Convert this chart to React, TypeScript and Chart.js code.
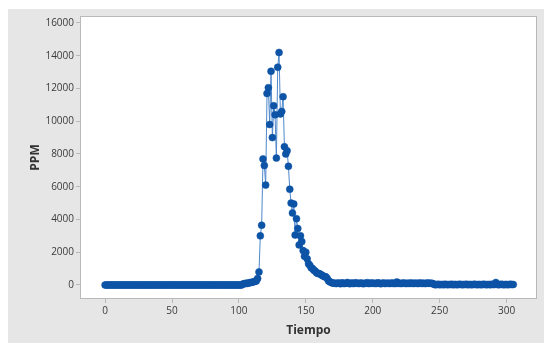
import React, { useEffect, useRef } from "react";
import { Chart, registerables } from "chart.js";

Chart.register(...registerables);

// PPM readings, one per unit of Tiempo (t = 0 .. 305)
const ppmBase1 = [
  0, 0, 0, 0, 0, 0, 0, 0, 0, 0, 0, 0, 0, 0, 0, 0, 0, 0, 0, 0,
  0, 0, 0, 0, 0, 0, 0, 0, 0, 0, 0, 0, 0, 0, 0, 0, 0, 0, 0, 0,
  0, 0, 0, 0, 0, 0, 0, 0, 0, 0, 0, 0, 0, 0, 0, 0, 0, 0, 0, 0,
  0, 0, 0, 0, 0, 0, 0, 0, 0, 0, 0, 0, 0, 0, 0, 0, 0, 0, 0, 0,
  0, 0, 0, 0, 0, 0, 0, 0, 0, 0, 0, 0, 0, 0, 0, 0, 0, 0, 0, 0,
  0, 0, 0,
];
const ppmRise = [60, 80, 100, 90, 120, 140, 150, 170, 200, 220, 250, 400, 800, 3000, 3650];
const ppmPeak = [
  7700, 7300, 6100, 11700, 12050, 9800, 13050, 9000, 10950, 10400,
  7750, 13300, 14200, 10450, 10600, 11500, 8450, 8000, 8200, 7250,
];
const ppmDecay = [
  5850, 5000, 4400, 4950, 3050, 4050, 3450, 2450, 3000, 2650,
  2100, 1750, 2000, 1600, 1300, 1200, 1050, 1000, 900, 850,
  750, 700, 700, 650, 600, 550, 500, 500, 400, 250,
  200, 150, 120,
];
const ppmTail1 = [
  110, 100, 90, 120, 100, 80, 130, 100, 90, 110, 150, 100, 80, 120, 100, 90, 130, 110, 100, 90,
  120, 100, 80, 110, 100, 140, 90, 100, 120, 100, 110, 90, 100, 130, 100, 80, 100, 120, 90, 100,
  110, 100, 90, 120, 100, 100, 90, 180, 100, 110, 90, 100, 120, 100, 90, 110, 100, 100, 120, 90,
  100, 110, 100, 90, 120, 100, 100, 110, 90, 100, 120, 100, 110, 100, 90,
];
const ppmTail2 = [
  30, 20, 30, 40, 20, 30, 30, 20, 40, 30, 20, 30, 30, 40, 20, 30, 30, 20, 30, 40,
  30, 20, 30, 30, 40, 20, 30, 30, 20, 30, 40, 30, 20, 30, 30, 20, 30, 40, 30, 20,
  30, 30, 20, 40, 30, 30, 150, 30, 20, 30, 40, 30, 20, 30, 30, 20, 30, 40, 30, 30,
];
const ppm = [...ppmBase1, ...ppmRise, ...ppmPeak, ...ppmDecay, ...ppmTail1, ...ppmTail2];

const xTicks = [0, 50, 100, 150, 200, 250, 300];
const yTicks = [0, 2000, 4000, 6000, 8000, 10000, 12000, 14000, 16000];

const background = {
  id: "bgPanel",
  beforeDraw(chart: any) {
    const { ctx, chartArea } = chart;
    ctx.save();
    ctx.fillStyle = "#e6e6e6";
    ctx.fillRect(8, 9, chart.width - 8, chart.height - 9);
    ctx.fillStyle = "#ffffff";
    ctx.fillRect(chartArea.left, chartArea.top, chartArea.right - chartArea.left, chartArea.bottom - chartArea.top);
    ctx.strokeStyle = "#b9b9b9";
    ctx.lineWidth = 1;
    ctx.strokeRect(chartArea.left - 0.5, chartArea.top - 0.5, chartArea.right - chartArea.left + 1, chartArea.bottom - chartArea.top + 1);
    ctx.restore();
  },
};

export default function App() {
  const ref = useRef<HTMLCanvasElement>(null);
  useEffect(() => {
    if (!ref.current) return;
    const data = ppm.map((v, i) => ({ x: i, y: v }));
    const tickFont = { family: "'Open Sans', sans-serif", size: 10 };
    const titleFont = { family: "'Open Sans', sans-serif", size: 12, weight: "bold" as const };
    const chart = new Chart(ref.current, {
      type: "line",
      data: {
        datasets: [
          {
            data,
            borderColor: "#4f88cc",
            borderWidth: 1,
            pointRadius: 3.5,
            pointBackgroundColor: "#0d53a6",
            pointBorderColor: "#0d53a6",
            pointBorderWidth: 0.5,
            tension: 0,
          },
        ],
      },
      options: {
        responsive: false,
        animation: false,
        layout: { padding: { top: 17, right: 8, left: 0, bottom: 0 } },
        plugins: { legend: { display: false }, tooltip: { enabled: false } },
        scales: {
          x: {
            type: "linear",
            min: -18,
            max: 322,
            afterFit: (s: any) => { s.height = 45; },
            afterBuildTicks: (s: any) => { s.ticks = xTicks.map((v) => ({ value: v })); },
            grid: { display: true, drawOnChartArea: false, drawTicks: true, tickLength: 5, color: "#b9b9b9" },
            border: { display: false },
            ticks: { font: tickFont, color: "#3a3a3a", padding: 2, maxRotation: 0, callback: (v: any) => String(v) },
            title: { display: true, text: "Tiempo", font: titleFont, color: "#333333", padding: { top: 0, bottom: 5 } },
          },
          y: {
            type: "linear",
            min: -794,
            max: 16366,
            afterFit: (s: any) => { s.width = 81; },
            afterBuildTicks: (s: any) => { s.ticks = yTicks.map((v) => ({ value: v })); },
            grid: { display: true, drawOnChartArea: false, drawTicks: true, tickLength: 5, color: "#b9b9b9" },
            border: { display: false },
            ticks: { font: tickFont, color: "#3a3a3a", padding: 2, callback: (v: any) => String(v) },
            title: { display: true, text: "PPM", font: titleFont, color: "#333333", padding: { top: 28, bottom: 0 } },
          },
        },
      },
      plugins: [background],
    });
    return () => chart.destroy();
  }, []);
  return (
    <div style={{ position: "fixed", left: 0, top: 0, width: 544, height: 343 }}>
      <canvas ref={ref} width={544} height={343} style={{ display: "block" }} />
    </div>
  );
}
